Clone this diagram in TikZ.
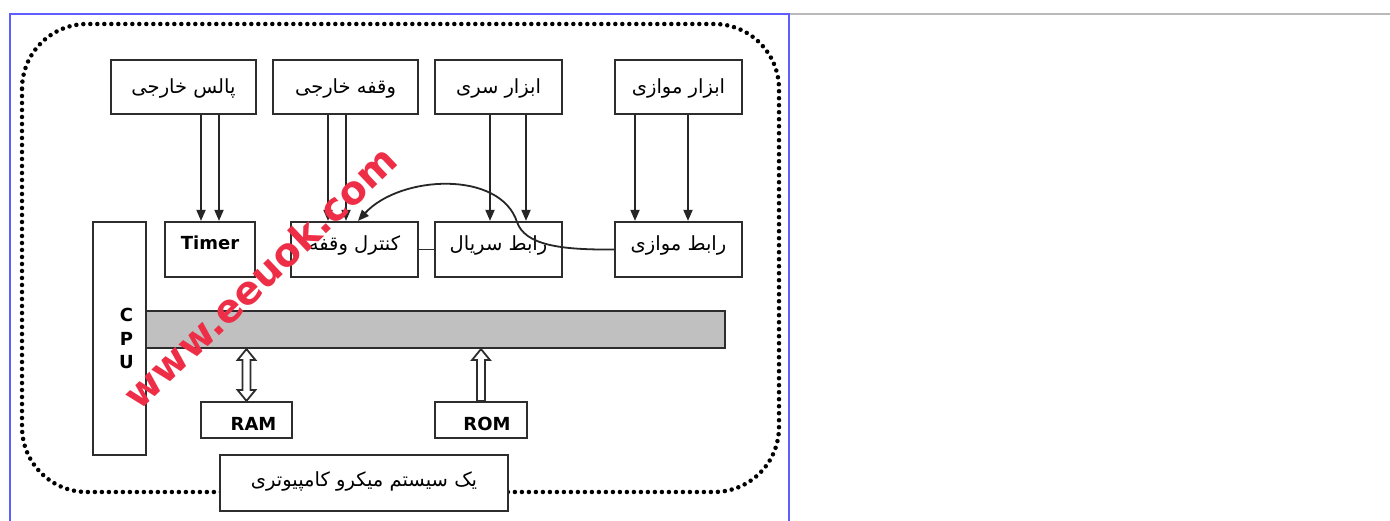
\documentclass[tikz,border=0pt]{standalone}
\usepackage{fontspec}
\newfontfamily\fa[Script=Arabic]{DejaVu Sans}
\newfontfamily\lat{DejaVu Sans}
\TeXXeTstate=1
\usetikzlibrary{arrows.meta,calc}
\definecolor{frameblue}{RGB}{95,95,255}
\definecolor{boxline}{RGB}{45,45,45}
\definecolor{busgray}{RGB}{192,192,192}
\definecolor{wmred}{RGB}{238,45,70}
\tikzset{
  box/.style={draw=boxline, line width=2.2pt, fill=white, inner sep=0pt,
    font=\fa\fontsize{19.5}{22}\selectfont},
  toprow/.style={box, minimum height=54pt, text height=14pt, text depth=1pt},
  midrow/.style={box, minimum height=55pt, text height=12pt, text depth=9pt},
  latbox/.style={box, font=\lat\bfseries\fontsize{18}{20}\selectfont},
  arr/.style={line width=1.8pt, draw=black!85, -{Triangle[length=11pt,width=9pt]}},
  openarr/.style={line width=1.8pt, draw=boxline, fill=white, line join=miter},
  dotframe/.style={line width=4.5pt, dash pattern=on 0pt off 7pt, line cap=round, rounded corners=65pt},
  wm/.style={text=wmred, font=\lat\bfseries\fontsize{39}{39}\selectfont, inner sep=0pt}
}
\begin{document}
\begin{tikzpicture}[x=1pt,y=-1pt]
\useasboundingbox (0,0) rectangle (1390,521);
\fill[white] (0,0) rectangle (1390,521);
% page frame
\draw[gray!55, line width=1.5pt] (789,14) -- (1390,14);
\draw[frameblue, line width=1.5pt] (10,521) -- (10,14) -- (789,14) -- (789,521);
% dotted rounded frame
\draw[dotframe] (22,24) rectangle (779,492);

% top row
\node[toprow, minimum width=145pt] (p1) at (183.5,87) {\beginR پالس خارجی\endR};
\node[toprow, minimum width=145pt] (p2) at (345.5,87) {\beginR وقفه خارجی\endR};
\node[toprow, minimum width=127pt] (p3) at (498.5,87) {\beginR ابزار سری\endR};
\node[toprow, minimum width=127pt] (p4) at (678.5,87) {\beginR ابزار موازی\endR};

% middle row
\node[latbox, minimum width=90pt, minimum height=55pt, text height=12pt, text depth=11pt] (timer) at (210,249.5) {Timer};
\node[midrow, minimum width=127pt] (ctl) at (354.5,249.5) {\beginR کنترل وقفه\endR};
\node[midrow, minimum width=127pt] (ser) at (498.5,249.5) {\beginR رابط سریال\endR};
\node[midrow, minimum width=127pt] (par) at (678.5,249.5) {\beginR رابط موازی\endR};

% CPU and bus
\node[box, minimum width=53pt, minimum height=233pt] (cpu) at (119.5,338.5) {};
\node[box, fill=busgray, minimum width=579pt, minimum height=37pt] (bus) at (435.5,329.5) {};
\node[inner sep=0pt, align=center, font=\lat\bfseries\fontsize{18}{23.5}\selectfont] (cpul) at ([xshift=7pt]cpu.center) {C\\P\\U};

% memories
\node[latbox, minimum width=91pt, minimum height=36pt, text height=20pt, text depth=0pt] (ram) at (246.5,420) {\hspace*{14pt}RAM};
\node[latbox, minimum width=92pt, minimum height=36pt, text height=20pt, text depth=0pt] (rom) at (481,420) {\hspace*{12pt}ROM};

% system label
\node[box, minimum width=288pt, minimum height=56pt, text height=14pt, text depth=8pt] (sys) at (364,483) {\beginR یک سیستم میکرو کامپیوتری\endR};

% vertical arrows
\draw[arr] ([xshift=17.5pt]p1.south) -- ([xshift=-9pt]timer.north);
\draw[arr] ([xshift=35.5pt]p1.south) -- ([xshift=9pt]timer.north);
\draw[arr] ([xshift=-17.5pt]p2.south) -- ([xshift=-26.5pt]ctl.north);
\draw[arr] ([xshift=0.5pt]p2.south) -- ([xshift=-8.5pt]ctl.north);
\draw[arr] ([xshift=-8.5pt]p3.south) -- ([xshift=-8.5pt]ser.north);
\draw[arr] ([xshift=27.5pt]p3.south) -- ([xshift=27.5pt]ser.north);
\draw[arr] ([xshift=-43.5pt]p4.south) -- ([xshift=-43.5pt]par.north);
\draw[arr] ([xshift=9.5pt]p4.south) -- ([xshift=9.5pt]par.north);

% ctl - ser link
\draw[line width=1.8pt, draw=boxline] (ctl.east) -- (ser.west);

% curved interrupt arrow
\coordinate (cmid) at (517,222);
\draw[arr] (par.west) .. controls (560,250) and (525,245) .. (cmid)
  .. controls (500,170) and (400,175) .. ([xshift=3.5pt]ctl.north);

% RAM double open arrow
\coordinate (ramT) at (ram.north |- bus.south);
\coordinate (ramB) at (ram.north);
\draw[openarr] (ramT) -- ++(9,11) -- ++(-5,0) -- ($(ramB)+(4,-11)$) -- ++(5,0) -- (ramB)
  -- ++(-9,-11) -- ++(5,0) -- ($(ramT)+(-4,11)$) -- ++(-5,0) -- cycle;
% ROM open arrow
\coordinate (romT) at (rom.north |- bus.south);
\coordinate (romB) at (rom.north);
\draw[openarr] (romT) -- ++(9,11) -- ++(-5,0) -- ($(romB)+(4,0)$) -- ($(romB)+(-4,0)$)
  -- ($(romT)+(-4,11)$) -- ++(-5,0) -- cycle;

% watermark
\node[wm, rotate=43.5] (wmark) at (260,277) {www.eeuok.com};
\end{tikzpicture}
\end{document}
